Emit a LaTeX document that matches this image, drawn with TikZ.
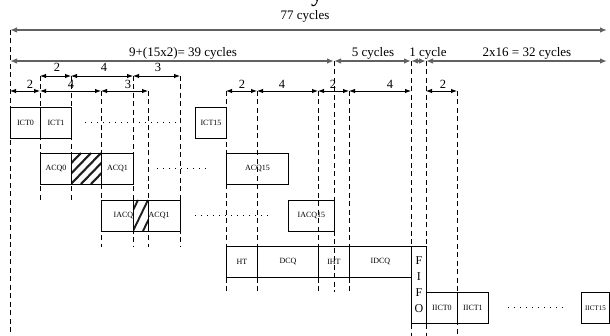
\documentclass[tikz,border=0pt]{standalone}
\usepackage{fontspec}
\setmainfont{Liberation Serif}
\usetikzlibrary{arrows.meta}
\begin{document}
\begin{tikzpicture}[x=1pt,y=-1pt,
  box/.style={draw, line width=0.9pt, inner sep=0pt, anchor=north west, minimum height=31pt, font=\fontsize{8}{9}\selectfont},
  guide/.style={line width=0.8pt, dash pattern=on 5pt off 3.5pt},
  bigarr/.style={draw=black!62, line width=1.8pt, {Latex[length=7pt,width=5.5pt]}-{Latex[length=7pt,width=5.5pt]}},
  dim/.style={line width=0.9pt, {Latex[length=6pt,width=4.5pt]}-{Latex[length=6pt,width=4.5pt]}},
  bigtxt/.style={font=\fontsize{13}{13}\selectfont, anchor=base, inner sep=0pt},
  num/.style={font=\fontsize{12.5}{12.5}\selectfont, anchor=base, inner sep=0pt},
  dots/.style={line width=1pt, dash pattern=on 1pt off 5pt},
  stripe/.style={line width=2.1pt, draw=black!88},
  lab/.style={font=\fontsize{8}{9}\selectfont, inner sep=0.5pt}
]
\useasboundingbox (0,0) rectangle (610,336);

% clipped fragment of a large title letter
\node[font=\fontsize{24}{24}\selectfont, anchor=base, inner sep=0pt] (ttl) at (317,2) {y};

% boxes
\node[box, minimum width=30pt] (ict0) at (10,107) {ICT0};
\node[box, minimum width=31pt] (ict1) at (40,107) {ICT1};
\node[box, minimum width=31pt] (ict15) at (195,107) {ICT15};
\node[box, minimum width=31pt] (acq0) at (40,153) {ACQ0};
\node[box, minimum width=30pt] (hatchA) at (71,153) {};
\node[box, minimum width=32pt] (acq1) at (101,153) {ACQ1};
\node[box, minimum width=62pt] (acq15) at (226,153) {ACQ15};
\node[box, minimum width=32pt] (iacq0) at (101,200) {};
\node[box, minimum width=15pt] (hatchB) at (133,200) {};
\node[box, minimum width=32pt] (iacq1) at (148,200) {};
\node[box, minimum width=46pt] (iacq15) at (288,200) {IACQ15};
\node[box, minimum width=31pt] (ht) at (226,246) {HT};
\node[box, minimum width=61pt] (dcq) at (257,246) {DCQ};
\node[box, minimum width=31pt] (iht) at (318,246) {IHT};
\node[box, minimum width=62pt] (idcq) at (349,246) {IDCQ};
\node[box, minimum width=15pt, minimum height=77pt, font=\fontsize{12}{16}\selectfont, align=center] (fifo) at (411,246) {F\\I\\F\\O};
\node[box, minimum width=31pt] (iict0) at (426,292) {IICT0};
\node[box, minimum width=31pt] (iict1) at (457,292) {IICT1};
\node[box, minimum width=28pt, font=\fontsize{7}{8}\selectfont] (iict15) at (581,292) {IICT15};

\node[lab, anchor=east] (iacqt) at (iacq0.east) {IACQ};
\node[lab, anchor=west] (acq1t) at (iacq1.west) {ACQ1};

% hatches
\begin{scope}
  \clip (hatchA.north west) rectangle (hatchA.south east);
  \foreach \o in {-20,-10,0,10,20}
    \draw[stripe] ({71+\o},184) -- ({101+\o},153);
\end{scope}
\draw[line width=0.9pt] (hatchA.north west) rectangle (hatchA.south east);
\begin{scope}
  \clip (hatchB.north west) rectangle (hatchB.south east);
  \foreach \o in {-10,0,10}
    \draw[stripe, line width=1.9pt] ({133+\o},231) -- ({148+\o},200);
\end{scope}
\draw[line width=0.9pt] (hatchB.north west) rectangle (hatchB.south east);

% dotted continuations
\coordinate (d1a) at (85,122.5);  \coordinate (d1b) at (180,122.5);
\coordinate (d2a) at (157,168.5); \coordinate (d2b) at (210,168.5);
\coordinate (d3a) at (195,215.5); \coordinate (d3b) at (270,215.5);
\coordinate (d4a) at (508,307.5); \coordinate (d4b) at (566,307.5);
\draw[dots] (d1a) -- (d1b);
\draw[dots] (d2a) -- (d2b);
\draw[dots] (d3a) -- (d3b);
\draw[dots] (d4a) -- (d4b);

% dashed guide lines
\foreach \nm/\x/\ya/\yb in {g1/10/30/336, g2/40/76/200, g3/71/76/200, g4/101/91/247,
  g5/133/76/247, g6/148/91/247, g7/180/76/247, g8/226/91/292, g9/257/91/292,
  g10/318/91/292, g11/334/61/292, g12/349/91/292, g13/411/61/336, g14/426/61/336, g15/457/91/336}
{\coordinate (\nm-a) at (\x,\ya); \coordinate (\nm-b) at (\x,\yb); \draw[guide] (\nm-a) -- (\nm-b);}

% top arrow
\coordinate (t0) at (10,30); \coordinate (t1) at (607,30);
\draw[bigarr] (t0) -- (t1);
\node[bigtxt] (l77) at (305,20) {77 cycles};

% second row
\coordinate (s0) at (10,61); \coordinate (s1) at (334,61); \coordinate (s2) at (411,61);
\coordinate (s3) at (426,61); \coordinate (s4) at (607,61);
\draw[bigarr] (s0) -- (s1);
\draw[bigarr] (s1) -- (s2);
\draw[bigarr] (s2) -- (s3);
\draw[bigarr] (s3) -- (s4);
\node[bigtxt] (l39) at (183,57) {9+(15x2)= 39 cycles};
\node[bigtxt] (l5) at (373,57) {5 cycles};
\node[bigtxt] (l1) at (428,57) {1 cycle};
\node[bigtxt] (l32) at (527,57) {2x16 = 32 cycles};

% third row
\coordinate (u0) at (40,76); \coordinate (u1) at (71,76); \coordinate (u2) at (133,76); \coordinate (u3) at (180,76);
\draw[dim] (u0) -- (u1);
\draw[dim] (u1) -- (u2);
\draw[dim] (u2) -- (u3);
\node[num] (n31) at (57,72) {2};
\node[num] (n32) at (104,72) {4};
\node[num] (n33) at (158,72) {3};

% fourth row
\coordinate (v0) at (10,91); \coordinate (v1) at (40,91); \coordinate (v2) at (101,91); \coordinate (v3) at (148,91);
\coordinate (v4) at (226,91); \coordinate (v5) at (257,91); \coordinate (v6) at (318,91); \coordinate (v7) at (349,91);
\coordinate (v8) at (411,91); \coordinate (v9) at (426,91); \coordinate (v10) at (457,91);
\draw[dim] (v0) -- (v1);
\draw[dim] (v1) -- (v2);
\draw[dim] (v2) -- (v3);
\draw[dim] (v4) -- (v5);
\draw[dim] (v5) -- (v6);
\draw[dim] (v6) -- (v7);
\draw[dim] (v7) -- (v8);
\draw[dim] (v9) -- (v10);
\node[num] (n41) at (30,89) {2};
\node[num] (n42) at (71,89) {4};
\node[num] (n43) at (128,89) {3};
\node[num] (n44) at (242,89) {2};
\node[num] (n45) at (282,89) {4};
\node[num] (n46) at (333,89) {2};
\node[num] (n47) at (390,89) {4};
\node[num] (n48) at (443,89) {2};
\end{tikzpicture}
\end{document}
